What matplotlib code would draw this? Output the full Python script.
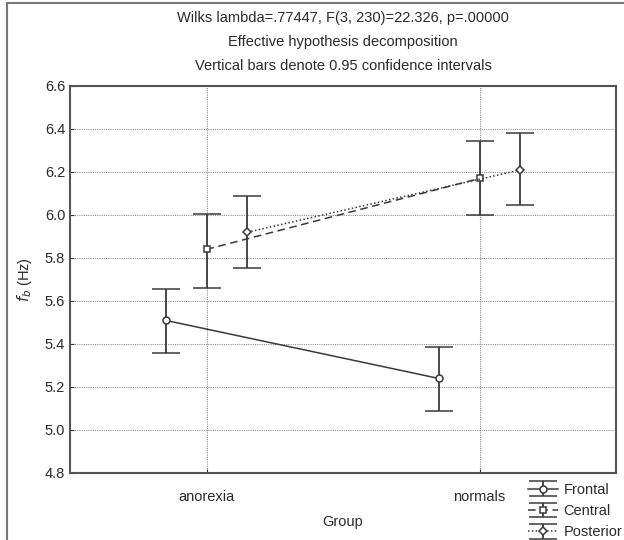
import matplotlib.pyplot as plt
import numpy as np
from matplotlib.lines import Line2D

plt.rcParams['font.family'] = ['Liberation Sans', 'DejaVu Sans']

groups = ['anorexia', 'normals']
series = ['Frontal', 'Central', 'Posterior']

# means and 0.95 confidence limits
means = {'Frontal': [5.51, 5.24], 'Central': [5.84, 6.17], 'Posterior': [5.92, 6.21]}
upper = {'Frontal': [5.655, 5.385], 'Central': [6.005, 6.345], 'Posterior': [6.09, 6.38]}
lower = {'Frontal': [5.36, 5.09], 'Central': [5.66, 6.0], 'Posterior': [5.755, 6.045]}

offsets = {'Frontal': -0.15, 'Central': 0.0, 'Posterior': 0.15}
markers = {'Frontal': 'o', 'Central': 's', 'Posterior': 'D'}
msizes = {'Frontal': 5, 'Central': 5, 'Posterior': 4.5}
styles = {'Frontal': '-', 'Central': (0, (5, 3)), 'Posterior': (0, (1, 1.5))}

col = '#3a3a3a'
txt = '#2a2a2a'

fig = plt.figure(figsize=(6.24, 5.4), dpi=100)
ax = fig.add_axes([70/624, 1-473/540, 546/624, 387/540])

x = np.arange(len(groups))
handles = []
for s in series:
    xs = x + offsets[s]
    m = np.array(means[s])
    yerr = [m - np.array(lower[s]), np.array(upper[s]) - m]
    h = ax.errorbar(xs, m, yerr=yerr, color=col, ls=styles[s], lw=1.1,
                    marker=markers[s], ms=msizes[s], mfc='white', mec=col, mew=1.1,
                    capsize=10, capthick=1.3, elinewidth=1.3, zorder=3)
    handles.append(h)

ax.set_xlim(-0.5, 1.5)
ax.set_ylim(4.8, 6.6)
ax.set_xticks(x)
ax.set_xticklabels(groups)
ax.set_yticks(np.arange(4.8, 6.61, 0.2))
ax.set_yticklabels(['%.1f' % v for v in np.arange(4.8, 6.61, 0.2)])
ax.grid(True, ls=(0, (1, 1)), color='#909090', lw=0.8)
ax.tick_params(colors=col, labelcolor=txt, labelsize=10.5, length=3, direction='in')
ax.tick_params(axis='x', pad=12)
for sp in ax.spines.values():
    sp.set_color('#555555')
    sp.set_linewidth(1.5)

ax.set_xlabel('Group', fontsize=10.5, color=txt, labelpad=8)
ax.set_ylabel(r'$f_b$ (Hz)', fontsize=10.5, color=txt, labelpad=8)

fig.text(343/624, 1-18/540, 'Wilks lambda=.77447, F(3, 230)=22.326, p=.00000',
         ha='center', va='center', fontsize=10.5, color=txt)
fig.text(343/624, 1-42/540, 'Effective hypothesis decomposition',
         ha='center', va='center', fontsize=10.5, color=txt)
fig.text(343/624, 1-66/540, 'Vertical bars denote 0.95 confidence intervals',
         ha='center', va='center', fontsize=10.5, color=txt)

fig.legend(handles, series, loc='upper left', bbox_to_anchor=(522/624, 1-477/540),
           frameon=False, fontsize=10.5, handlelength=2.1, handletextpad=0.35,
           labelspacing=0.5, borderaxespad=0, labelcolor=txt)

# outer frame
fig.add_artist(Line2D([7/624, 7/624], [0, 1-3/540], transform=fig.transFigure, color='#777777', lw=1.5))
fig.add_artist(Line2D([7/624, 1], [1-3/540, 1-3/540], transform=fig.transFigure, color='#777777', lw=1.5))

fig.savefig('out.png', dpi=100)
